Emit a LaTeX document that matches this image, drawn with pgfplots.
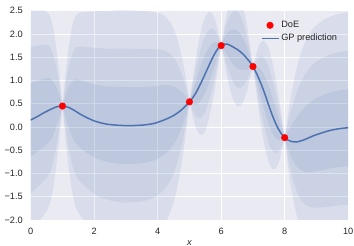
\documentclass[border=0pt]{standalone}
\usepackage{pgfplots}
\pgfplotsset{compat=1.18}
\usepackage{pgfplotstable}
\usepgfplotslibrary{fillbetween}
\usepackage{fontspec}
\setmainfont{Liberation Sans}
\definecolor{seablue}{HTML}{4C72B0}
\definecolor{bgcol}{HTML}{EAEAF2}
\definecolor{txt}{HTML}{262626}

\pgfplotstableread{
x m s
0.0 0.15 0.785
0.1 0.185 0.775
0.2 0.22 0.76
0.3 0.26 0.75
0.4 0.30 0.735
0.5 0.335 0.715
0.6 0.37 0.68
0.7 0.40 0.59
0.8 0.43 0.44
0.9 0.445 0.24
1.0 0.45 0.0
1.1 0.44 0.24
1.2 0.42 0.44
1.3 0.385 0.59
1.4 0.345 0.68
1.5 0.30 0.715
1.6 0.26 0.735
1.7 0.225 0.75
1.8 0.19 0.76
1.9 0.16 0.775
2.0 0.13 0.785
2.1 0.11 0.795
2.2 0.09 0.80
2.3 0.075 0.806
2.4 0.06 0.81
2.6 0.045 0.82
2.8 0.035 0.826
3.0 0.03 0.828
3.2 0.03 0.826
3.4 0.035 0.822
3.6 0.045 0.815
3.7 0.055 0.81
3.8 0.065 0.805
3.9 0.08 0.795
4.0 0.10 0.785
4.1 0.125 0.77
4.2 0.15 0.75
4.3 0.18 0.72
4.4 0.21 0.68
4.5 0.245 0.625
4.6 0.29 0.55
4.7 0.34 0.45
4.8 0.40 0.33
4.9 0.467 0.18
5.0 0.54 0.0
5.1 0.625 0.13
5.2 0.73 0.25
5.3 0.86 0.335
5.4 1.00 0.39
5.5 1.15 0.41
5.6 1.30 0.39
5.7 1.45 0.335
5.8 1.58 0.25
5.9 1.69 0.13
6.0 1.75 0.0
6.1 1.78 0.13
6.2 1.78 0.25
6.3 1.75 0.335
6.4 1.71 0.39
6.5 1.67 0.41
6.6 1.62 0.39
6.7 1.56 0.335
6.8 1.48 0.25
6.9 1.40 0.13
7.0 1.30 0.0
7.1 1.17 0.13
7.2 1.02 0.25
7.3 0.85 0.335
7.4 0.66 0.39
7.5 0.46 0.41
7.6 0.27 0.39
7.7 0.10 0.335
7.8 -0.04 0.25
7.9 -0.15 0.13
8.0 -0.23 0.0
8.1 -0.28 0.18
8.2 -0.31 0.33
8.3 -0.32 0.45
8.4 -0.32 0.55
8.5 -0.30 0.625
8.6 -0.28 0.68
8.7 -0.25 0.72
8.8 -0.22 0.75
8.9 -0.19 0.77
9.0 -0.165 0.785
9.2 -0.12 0.805
9.4 -0.08 0.815
9.6 -0.05 0.822
9.8 -0.03 0.826
10.0 -0.015 0.828
}\gp

\pgfplotstableread{
x y
1 0.45
5 0.54
6 1.75
7 1.30
8 -0.23
}\doe

\begin{document}
\begin{tikzpicture}
\begin{axis}[
  at={(0,0)}, anchor=south west,
  scale only axis, width=317.5bp, height=209.3bp,
  xmin=0, xmax=10, ymin=-2, ymax=2.5,
  axis background/.style={fill=bgcol},
  axis line style={draw=none},
  major tick length=0pt,
  grid=major, grid style={white, line width=0.9bp},
  xtick={0,2,4,6,8,10},
  ytick={-2,-1.5,-1,-0.5,0,0.5,1,1.5,2,2.5},
  yticklabels={−2.0,−1.5,−1.0,−0.5,0.0,0.5,1.0,1.5,2.0,2.5},
  /pgf/number format/assume math mode=true,
  tick label style={font=\fontsize{9.2bp}{11bp}\selectfont, text=txt},
  xticklabel style={yshift=-4.5bp},
  yticklabel style={xshift=-4.5bp},
  xlabel={\textit{x}},
  xlabel style={at={(axis description cs:0.5,0)}, anchor=center, yshift=-23bp, font=\fontsize{9.2bp}{11bp}\selectfont, text=txt},
  legend style={draw=none, fill=none, at={(axis description cs:1,1)}, anchor=north east, xshift=-6bp, yshift=-6.5bp, font=\fontsize{9.2bp}{11bp}\selectfont, text=txt, row sep=1bp},
  legend cell align=left,
]
\addplot[name path=u3, draw=none, forget plot] table[x=x, y expr=\thisrow{m}+3*\thisrow{s}] {\gp};
\addplot[name path=l3, draw=none, forget plot] table[x=x, y expr=\thisrow{m}-3*\thisrow{s}] {\gp};
\addplot[name path=u2, draw=none, forget plot] table[x=x, y expr=\thisrow{m}+2*\thisrow{s}] {\gp};
\addplot[name path=l2, draw=none, forget plot] table[x=x, y expr=\thisrow{m}-2*\thisrow{s}] {\gp};
\addplot[name path=u1, draw=none, forget plot] table[x=x, y expr=\thisrow{m}+\thisrow{s}] {\gp};
\addplot[name path=l1, draw=none, forget plot] table[x=x, y expr=\thisrow{m}-\thisrow{s}] {\gp};
\addplot[fill=seablue, fill opacity=0.1, draw=none, forget plot] fill between[of=u3 and l3];
\addplot[fill=seablue, fill opacity=0.1, draw=none, forget plot] fill between[of=u2 and l2];
\addplot[fill=seablue, fill opacity=0.1, draw=none, forget plot] fill between[of=u1 and l1];
\addlegendimage{only marks, mark=*, mark size=3.3bp, mark options={draw=red, fill=red}}
\addlegendentry{DoE}
\addplot[seablue, line width=1.5bp, smooth] table[x=x, y=m] {\gp};
\addlegendentry{GP prediction}
\addplot[only marks, mark=*, mark size=3.3bp, mark options={draw=red, fill=red}, forget plot] table[x=x, y=y] {\doe};
\end{axis}
\pgfresetboundingbox
\path[use as bounding box] (-30.7bp,-26bp) rectangle (323.3bp,220bp);
\end{tikzpicture}
\end{document}
